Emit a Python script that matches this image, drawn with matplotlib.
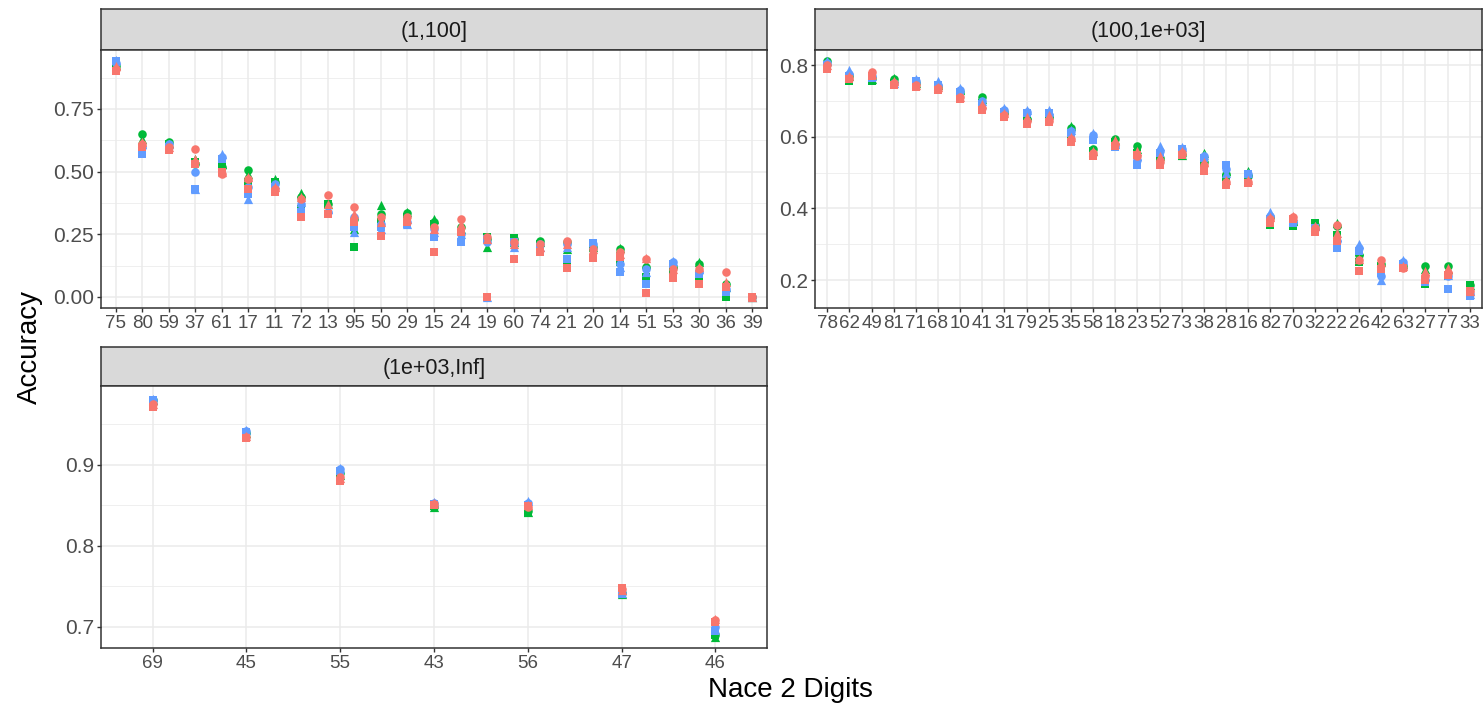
import matplotlib
matplotlib.use("Agg")
import matplotlib.pyplot as plt
import numpy as np

plt.rcParams.update({
    "font.family": ["Liberation Sans", "DejaVu Sans"],
    "figure.dpi": 100, "savefig.dpi": 100,
})

# ---- panel (1,100] ----
CAT_1 = ["75", "80", "59", "37", "61", "17", "11", "72", "13", "95", "50", "29", "15",
         "24", "19", "60", "74", "21", "20", "14", "51", "53", "30", "36", "39"]
RED_C_1 = [0.91, 0.61, 0.60, 0.59, 0.49, 0.47, 0.43, 0.39, 0.405, 0.36, 0.32, 0.32, 0.28,
           0.31, 0.24, 0.22, 0.21, 0.225, 0.19, 0.18, 0.15, 0.11, 0.11, 0.10, 0.0]
RED_T_1 = [0.92, 0.62, 0.60, 0.55, 0.50, 0.48, 0.44, 0.40, 0.37, 0.33, 0.30, 0.31, 0.27,
           0.29, 0.23, 0.21, 0.20, 0.21, 0.19, 0.17, 0.155, 0.11, 0.12, 0.06, 0.0]
RED_S_1 = [0.90, 0.60, 0.585, 0.53, 0.50, 0.43, 0.42, 0.32, 0.33, 0.30, 0.245, 0.30, 0.18,
           0.26, 0.0, 0.15, 0.18, 0.115, 0.155, 0.16, 0.015, 0.075, 0.05, 0.04, 0.0]
GRN_C_1 = [0.92, 0.65, 0.62, 0.53, 0.52, 0.505, 0.46, 0.40, 0.37, 0.31, 0.33, 0.335, 0.30,
           0.28, 0.23, 0.23, 0.225, 0.22, 0.20, 0.19, 0.12, 0.12, 0.13, 0.05, 0.0]
GRN_T_1 = [0.925, 0.63, 0.615, 0.55, 0.53, 0.49, 0.47, 0.415, 0.37, 0.27, 0.365, 0.34, 0.31,
           0.27, 0.20, 0.22, 0.22, 0.19, 0.20, 0.195, 0.13, 0.13, 0.14, 0.04, 0.0]
GRN_S_1 = [0.92, 0.59, 0.61, 0.54, 0.52, 0.46, 0.46, 0.35, 0.37, 0.20, 0.30, 0.32, 0.29,
           0.22, 0.24, 0.235, 0.21, 0.14, 0.20, 0.14, 0.08, 0.10, 0.08, 0.0, 0.0]
BLU_C_1 = [0.935, 0.60, 0.61, 0.50, 0.56, 0.44, 0.45, 0.37, 0.34, 0.32, 0.29, 0.30, 0.27,
           0.25, 0.22, 0.21, 0.21, 0.21, 0.21, 0.13, 0.11, 0.14, 0.10, 0.03, 0.0]
BLU_T_1 = [0.945, 0.61, 0.61, 0.43, 0.57, 0.39, 0.45, 0.38, 0.35, 0.26, 0.27, 0.29, 0.26,
           0.25, 0.0, 0.20, 0.20, 0.20, 0.21, 0.12, 0.10, 0.145, 0.11, 0.04, 0.0]
BLU_S_1 = [0.94, 0.57, 0.60, 0.43, 0.55, 0.41, 0.44, 0.34, 0.33, 0.28, 0.28, 0.29, 0.24,
           0.22, 0.23, 0.22, 0.20, 0.15, 0.215, 0.10, 0.05, 0.13, 0.09, 0.02, 0.0]

# ---- panel (100,1e+03] ----
CAT_2 = ["78", "62", "49", "81", "71", "68", "10", "41", "31", "79", "25", "35", "58", "18", "23",
         "52", "73", "38", "28", "16", "82", "70", "32", "22", "26", "42", "63", "27", "77", "33"]
RED_C_2 = [.80, .765, .78, .75, .745, .735, .71, .68, .66, .645, .645, .595, .555, .58, .545,
           .53, .555, .52, .475, .475, .37, .375, .345, .355, .255, .255, .235, .21, .22, .17]
RED_T_2 = [.80, .77, .775, .755, .745, .74, .71, .69, .665, .655, .66, .60, .56, .59, .56,
           .545, .56, .53, .48, .48, .375, .38, .35, .33, .26, .25, .24, .225, .235, .17]
RED_S_2 = [.79, .76, .77, .745, .74, .73, .705, .675, .655, .635, .64, .585, .545, .575, .55,
           .52, .55, .505, .465, .47, .36, .37, .335, .31, .225, .23, .235, .20, .215, .17]
GRN_C_2 = [.81, .77, .765, .76, .75, .74, .725, .71, .67, .65, .655, .625, .565, .595, .575,
           .54, .55, .53, .495, .49, .375, .36, .355, .35, .27, .245, .24, .24, .24, .185]
GRN_T_2 = [.81, .77, .76, .765, .75, .745, .73, .705, .675, .66, .665, .63, .56, .59, .565,
           .545, .55, .555, .505, .505, .385, .365, .355, .36, .28, .25, .245, .23, .23, .185]
GRN_S_2 = [.80, .755, .755, .75, .745, .74, .72, .695, .665, .645, .65, .605, .56, .585, .555,
           .535, .545, .525, .485, .485, .355, .35, .36, .325, .25, .24, .24, .19, .21, .185]
BLU_C_2 = [.805, .775, .77, .75, .755, .745, .73, .70, .675, .67, .66, .615, .605, .575, .535,
           .56, .565, .545, .51, .495, .38, .365, .345, .31, .29, .21, .25, .20, .21, .16]
BLU_T_2 = [.81, .785, .77, .75, .76, .755, .735, .70, .68, .675, .675, .62, .61, .58, .545,
           .575, .57, .55, .50, .50, .39, .37, .35, .32, .30, .20, .255, .21, .215, .16]
BLU_S_2 = [.80, .77, .765, .745, .755, .745, .725, .69, .67, .665, .665, .61, .59, .57, .52,
           .555, .565, .54, .52, .495, .37, .36, .345, .29, .28, .22, .245, .195, .175, .155]

# ---- panel (1e+03,Inf] ----
CAT_3 = ["69", "45", "55", "43", "56", "47", "46"]
RED_C_3 = [.975, .935, .885, .852, .848, .747, .708]
RED_T_3 = [.975, .936, .884, .853, .850, .746, .710]
RED_S_3 = [.972, .933, .880, .850, .849, .748, .706]
GRN_C_3 = [.980, .940, .890, .848, .843, .742, .690]
GRN_T_3 = [.980, .940, .888, .848, .842, .741, .688]
GRN_S_3 = [.978, .938, .889, .849, .841, .742, .690]
BLU_C_3 = [.980, .942, .895, .853, .853, .742, .700]
BLU_T_3 = [.982, .943, .896, .854, .855, .742, .698]
BLU_S_3 = [.980, .941, .893, .852, .851, .741, .695]

RED, GRN, BLU = "#F8766D", "#00BA38", "#619CFF"
W, H = 1484, 710

fig = plt.figure(figsize=(W / 100, H / 100))


def box(l, t, r, b):
    return [l / W, 1 - b / H, (r - l) / W, (b - t) / H]


def panel(l, t, r, b, strip_h, title, cats, series, ylim, yticks, ylabels, yminor):
    st = fig.add_axes(box(l, t, r, t + strip_h))
    st.set_facecolor("#D9D9D9")
    st.set_xticks([]); st.set_yticks([])
    for s in st.spines.values():
        s.set_color("#333333"); s.set_linewidth(1.1)
    st.text(0.5, 0.45, title, ha="center", va="center", fontsize=15.5,
            color="#1A1A1A", transform=st.transAxes)

    ax = fig.add_axes(box(l, t + strip_h, r, b))
    x = np.arange(len(cats))
    for vals, col, mk, sz in series:
        ax.scatter(x, vals, s=sz, c=col, marker=mk, linewidths=0, zorder=3)
    ax.set_xlim(-0.55, len(cats) - 0.45)
    ax.set_ylim(*ylim)
    ax.set_xticks(x)
    ax.set_xticklabels(cats)
    ax.set_yticks(yticks)
    ax.set_yticklabels(ylabels)
    ax.set_yticks(yminor, minor=True)
    ax.grid(which="major", color="#EBEBEB", linewidth=1.1, zorder=0)
    ax.grid(which="minor", axis="y", color="#EBEBEB", linewidth=0.55, zorder=0)
    ax.set_axisbelow(True)
    ax.tick_params(which="major", length=3, width=1, color="#333333",
                   labelcolor="#4D4D4D", pad=2)
    ax.tick_params(axis="y", labelsize=15)
    ax.tick_params(axis="x", labelsize=13.5)
    ax.tick_params(which="minor", length=0)
    for s in ax.spines.values():
        s.set_color("#333333"); s.set_linewidth(1.1)
    return ax


def series_of(rc, rt, rs, gc, gt, gs, bc, bt, bs):
    return [(gc, GRN, "o", 38), (gt, GRN, "^", 44), (gs, GRN, "s", 32),
            (bc, BLU, "o", 38), (bt, BLU, "^", 44), (bs, BLU, "s", 32),
            (rc, RED, "o", 38), (rt, RED, "^", 44), (rs, RED, "s", 32)]


panel(101, 9, 767, 308, 41, "(1,100]", CAT_1,
      series_of(RED_C_1, RED_T_1, RED_S_1, GRN_C_1, GRN_T_1, GRN_S_1, BLU_C_1, BLU_T_1, BLU_S_1),
      (-0.044, 0.985), [0, 0.25, 0.5, 0.75], ["0.00", "0.25", "0.50", "0.75"],
      [0.125, 0.375, 0.625, 0.875])

panel(815, 9, 1482, 308, 41, "(100,1e+03]", CAT_2,
      series_of(RED_C_2, RED_T_2, RED_S_2, GRN_C_2, GRN_T_2, GRN_S_2, BLU_C_2, BLU_T_2, BLU_S_2),
      (0.122, 0.842), [0.2, 0.4, 0.6, 0.8], ["0.2", "0.4", "0.6", "0.8"],
      [0.3, 0.5, 0.7])

panel(101, 347, 767, 648, 39, "(1e+03,Inf]", CAT_3,
      series_of(RED_C_3, RED_T_3, RED_S_3, GRN_C_3, GRN_T_3, GRN_S_3, BLU_C_3, BLU_T_3, BLU_S_3),
      (0.674, 0.9975), [0.7, 0.8, 0.9], ["0.7", "0.8", "0.9"],
      [0.75, 0.85, 0.95])

fig.text(30 / W, 1 - 347 / H, "Accuracy", rotation=90, ha="center", va="center",
         fontsize=20, color="black")
fig.text(790 / W, 1 - 690 / H, "Nace 2 Digits", ha="center", va="center",
         fontsize=20, color="black")

fig.savefig("out.png", facecolor="white")
plt.close(fig)
